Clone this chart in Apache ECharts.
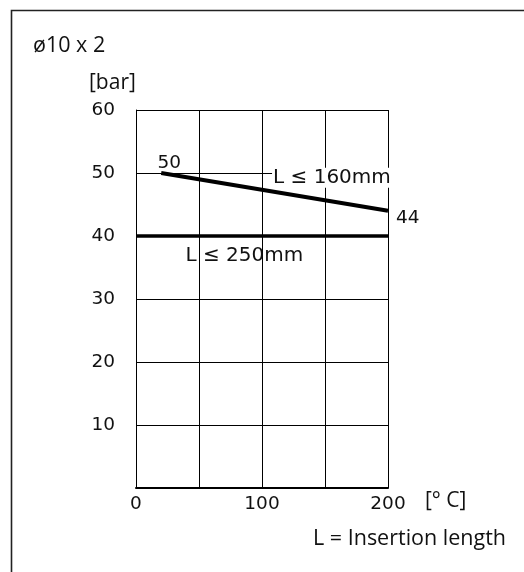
<!DOCTYPE html>
<html><head><meta charset="utf-8">
<script src="https://cdn.jsdelivr.net/npm/echarts@6/dist/echarts.min.js"></script>
<style>html,body{margin:0;padding:0;background:#fff}#c{width:524px;height:572px}</style>
</head><body><div id="c"></div><script>
// ---- data ----
const xTickLabels = ['0', '', '100', '', '200'];          // at 0,50,100,150,200
const yTickLabels = ['', '10', '20', '30', '40', '50', '60']; // at 0..60
const line160 = [[20, 50], [200, 44]];   // L <= 160mm
const line250 = [[0, 40], [200, 40]];    // L <= 250mm
const name160 = 'L \u2264 160mm';
const name250 = 'L \u2264 250mm';
const titleText = '\u00f810 x 2';
const yUnit = '[bar]';
const xUnit = '[\u00b0 C]';
const footnote = 'L = Insertion length';

const chart = echarts.init(document.getElementById('c'), null, {renderer: 'canvas'});
const tickFont = {fontFamily: 'DejaVu Sans', fontSize: 18.5, color: '#111'};
const nameFont = {fontFamily: 'DejaVu Sans', fontSize: 20, color: '#111'};
const sideFont = '"Open Sans"';

chart.setOption({
  animation: false,
  backgroundColor: '#fff',
  grid: {left: 136, top: 110, width: 252, height: 378},
  xAxis: {
    type: 'value', min: 0, max: 200, interval: 50,
    axisLine: {show: true, lineStyle: {color: '#000', width: 2}},
    axisTick: {show: false},
    splitLine: {show: true, lineStyle: {color: '#000', width: 1}},
    axisLabel: Object.assign({margin: 7, formatter: v => xTickLabels[Math.round(v / 50)] || ''}, tickFont)
  },
  yAxis: {
    type: 'value', min: 0, max: 60, interval: 10,
    axisLine: {show: true, lineStyle: {color: '#000', width: 1}},
    axisTick: {show: false},
    splitLine: {show: true, lineStyle: {color: '#000', width: 1}},
    axisLabel: Object.assign({margin: 21, formatter: v => yTickLabels[Math.round(v / 10)] || ''}, tickFont)
  },
  series: [
    {
      type: 'line', data: line160, showSymbol: false, symbol: 'none',
      lineStyle: {color: '#000', width: 4}, z: 5,
      markPoint: {
        symbol: 'circle', symbolSize: 0, silent: true, z: 4,
        label: Object.assign({show: true}, tickFont),
        data: [
          {coord: line160[0], label: {formatter: String(line160[0][1]), position: 'top', distance: 2, offset: [8, 2]}},
          {coord: line160[1], label: {formatter: String(line160[1][1]), position: 'right', distance: 8, offset: [0, 7]}},
          {coord: [155.5, 49.25], label: Object.assign({formatter: name160, position: 'inside', backgroundColor: '#fff', padding: [0, 1], lineHeight: 20}, nameFont)}
        ]
      }
    },
    {
      type: 'line', data: line250, showSymbol: false, symbol: 'none',
      lineStyle: {color: '#000', width: 3.5}, z: 5,
      markPoint: {
        symbol: 'circle', symbolSize: 0, silent: true, z: 4,
        label: Object.assign({show: true}, tickFont),
        data: [
          {coord: [86, 36.8], label: Object.assign({formatter: name250, position: 'inside'}, nameFont)}
        ]
      }
    }
  ],
  graphic: [
    {type: 'rect', shape: {x: 11.5, y: 10.5, width: 700, height: 700}, style: {fill: 'none', stroke: '#222', lineWidth: 1.6}, z: 0},
    {type: 'text', left: 33, top: 35, style: {text: titleText, font: '21.5px ' + sideFont, fill: '#111'}},
    {type: 'text', left: 89, top: 73, style: {text: yUnit, font: '21px ' + sideFont, fill: '#111'}},
    {type: 'text', left: 425, top: 491, style: {text: xUnit, font: '21px ' + sideFont, fill: '#111'}},
    {type: 'text', left: 313, top: 528, style: {text: footnote, font: '21.5px ' + sideFont, fill: '#111'}}
  ]
});
</script></body></html>
